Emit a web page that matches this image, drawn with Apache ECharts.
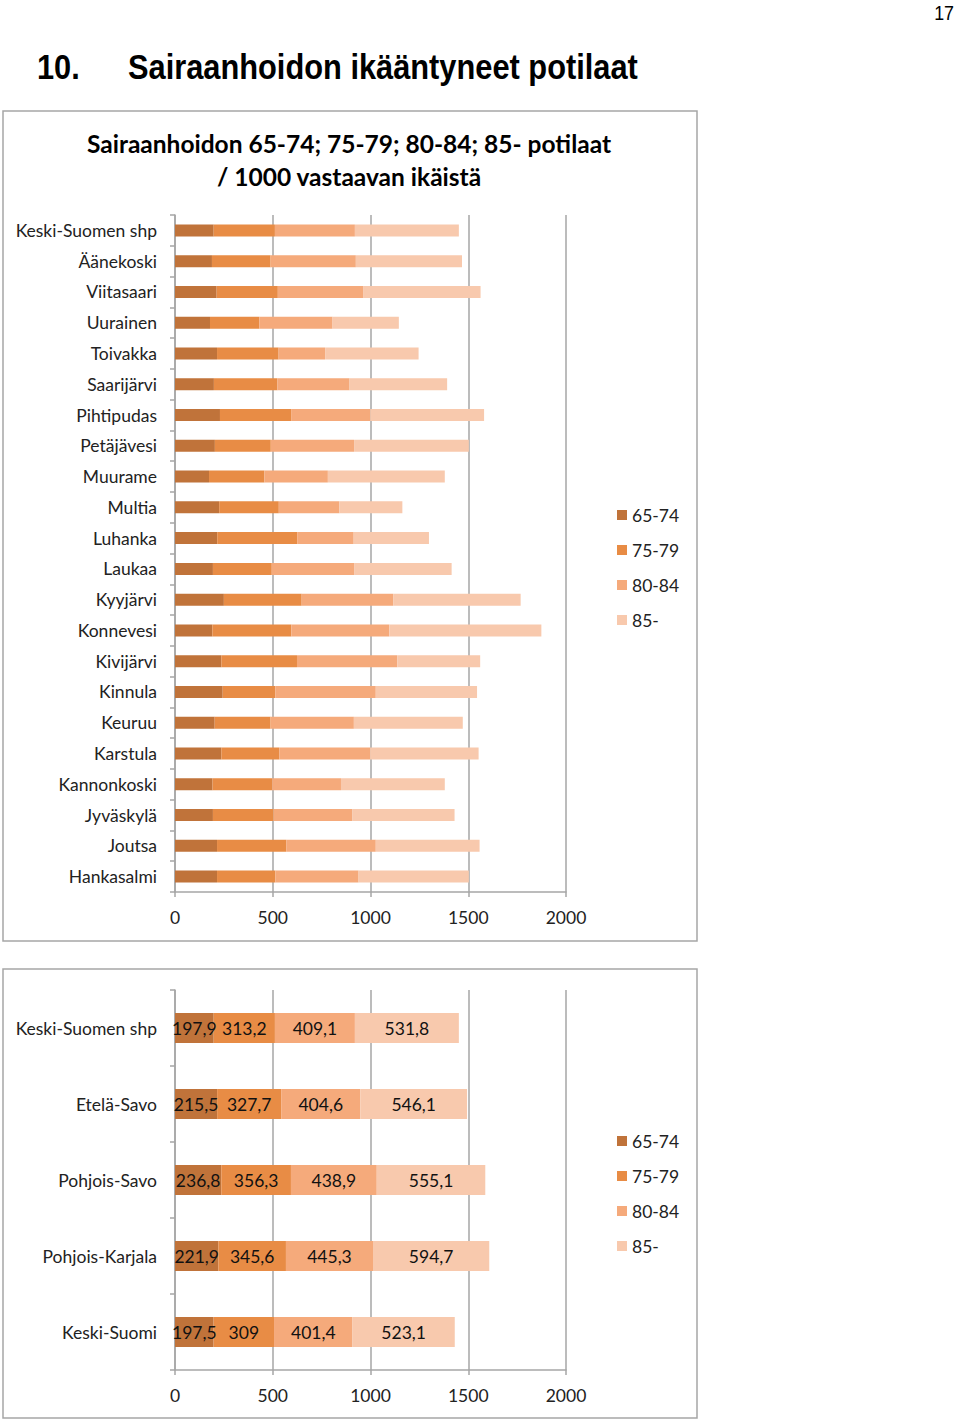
<!DOCTYPE html>
<html>
<head>
<meta charset="utf-8">
<script src="https://cdn.jsdelivr.net/npm/echarts@6/dist/echarts.min.js"></script>
<style>
html,body{margin:0;padding:0;background:#fff;}
#c{width:960px;height:1420px;}
</style>
</head>
<body>
<div id="c"></div>
<script>
// ---- Data ----
const seriesNames = ['65-74', '75-79', '80-84', '85-'];
const categoriesTop = ['Keski-Suomen shp','Äänekoski','Viitasaari','Uurainen','Toivakka','Saarijärvi','Pihtipudas','Petäjävesi','Muurame','Multia','Luhanka','Laukaa','Kyyjärvi','Konnevesi','Kivijärvi','Kinnula','Keuruu','Karstula','Kannonkoski','Jyväskylä','Joutsa','Hankasalmi'];
const top65_74 = [197.9, 189, 213, 179, 215, 199, 230, 204, 174, 226, 216, 194, 250, 191, 237, 244, 203, 237, 192, 194, 215, 215];
const top75_79 = [313.2, 300, 313, 252, 315, 325, 364, 286, 283, 305, 409, 301, 398, 404, 387, 269, 286, 296, 305, 310, 354, 298];
const top80_84 = [409.1, 436, 436, 375, 238, 369, 405, 426, 325, 310, 289, 421, 468, 501, 513, 514, 426, 465, 352, 402, 458, 426];
const top85 = [531.8, 543, 601, 339, 478, 499, 582, 587, 598, 322, 385, 499, 652, 778, 424, 518, 557, 555, 531, 524, 531, 564];

const categoriesBottom = ['Keski-Suomen shp','Etelä-Savo','Pohjois-Savo','Pohjois-Karjala','Keski-Suomi'];
const bot65_74 = [197.9, 215.5, 236.8, 221.9, 197.5];
const bot75_79 = [313.2, 327.7, 356.3, 345.6, 309];
const bot80_84 = [409.1, 404.6, 438.9, 445.3, 401.4];
const bot85 = [531.8, 546.1, 555.1, 594.7, 523.1];

const xTicks = { min: 0, max: 2000, interval: 500 };
const pageNumber = '17';
const heading = ['10.', 'Sairaanhoidon ikääntyneet potilaat'];
const chartTitle = ['Sairaanhoidon 65-74; 75-79; 80-84; 85- potilaat', '/ 1000 vastaavan ikäistä'];

// ---- Styles ----
const colors = ['#C0733A', '#E88C45', '#F5AA7B', '#F8C9AD'];
const FONT = 'Lato, "Noto Sans", sans-serif';
const HFONT = '"Liberation Sans", Arial, sans-serif';
const gridColor = '#A6A6A6';

const chart = echarts.init(document.getElementById('c'), null, { renderer: 'svg' });

function xAxis(gridIndex) {
  return {
    type: 'value', gridIndex, min: xTicks.min, max: xTicks.max, interval: xTicks.interval,
    axisLine: { show: true, lineStyle: { color: gridColor, width: 1.5 } },
    axisTick: { show: true, length: 5, lineStyle: { color: gridColor, width: 1.5 } },
    splitLine: { show: true, lineStyle: { color: gridColor, width: 1.5 } },
    axisLabel: { color: '#222', fontSize: 17.5, fontFamily: FONT, margin: 16, formatter: v => String(v) }
  };
}
function yAxis(gridIndex, cats) {
  return {
    type: 'category', gridIndex, data: cats, inverse: true,
    axisLine: { show: true, lineStyle: { color: gridColor, width: 1.5 } },
    axisTick: { show: true, length: 5, lineStyle: { color: gridColor, width: 1.5 } },
    axisLabel: { color: '#222', fontSize: 17.5, fontFamily: FONT, margin: 18 }
  };
}
function legend(top) {
  return {
    data: seriesNames, orient: 'vertical', left: 612, top: top,
    itemWidth: 10, itemHeight: 10, itemGap: 15, icon: 'rect',
    textStyle: { color: '#222', fontSize: 17.5, fontFamily: FONT, lineHeight: 20 },
    selectedMode: false
  };
}

const topData = [top65_74, top75_79, top80_84, top85];
const botData = [bot65_74, bot75_79, bot80_84, bot85];
const series = [];
seriesNames.forEach((n, i) => {
  series.push({
    name: n, type: 'bar', stack: 'top', xAxisIndex: 0, yAxisIndex: 0,
    data: topData[i], barWidth: 12, itemStyle: { color: colors[i] }, silent: true
  });
});
seriesNames.forEach((n, i) => {
  series.push({
    name: n, type: 'bar', stack: 'bot', xAxisIndex: 1, yAxisIndex: 1,
    data: botData[i], barWidth: 30, itemStyle: { color: colors[i] }, silent: true,
    label: {
      show: true, position: 'inside', color: '#111', fontSize: 17.5, fontFamily: FONT,
      formatter: p => String(p.value).replace('.', ',')
    }
  });
});

chart.setOption({
  animation: false,
  backgroundColor: '#fff',
  grid: [
    { left: 175, top: 215, width: 391, height: 677 },
    { left: 175, top: 990, width: 391, height: 380 }
  ],
  xAxis: [xAxis(0), xAxis(1)],
  yAxis: [yAxis(0, categoriesTop), yAxis(1, categoriesBottom)],
  legend: [legend(500), legend(1126)],
  series: series,
  graphic: [
    { type: 'rect', shape: { x: 3, y: 111, width: 694, height: 830 }, style: { fill: 'none', stroke: '#A6A6A6', lineWidth: 1.5 }, silent: true },
    { type: 'rect', shape: { x: 3, y: 969, width: 694, height: 449 }, style: { fill: 'none', stroke: '#A6A6A6', lineWidth: 1.5 }, silent: true },
    { type: 'text', x: 954, y: 12, scaleX: 0.85, style: { text: pageNumber, fontSize: 21, fontFamily: HFONT, fill: '#000', textAlign: 'right', textVerticalAlign: 'middle' } },
    { type: 'text', x: 37, y: 67, scaleX: 0.88, style: { text: heading[0], fontSize: 35, fontWeight: 'bold', fontFamily: HFONT, fill: '#000', textVerticalAlign: 'middle' } },
    { type: 'text', x: 128, y: 67, scaleX: 0.88, style: { text: heading[1], fontSize: 35, fontWeight: 'bold', fontFamily: HFONT, fill: '#000', textVerticalAlign: 'middle' } },
    { type: 'text', x: 349, y: 143, style: { text: chartTitle[0], fontSize: 24.5, fontWeight: 'bold', fontFamily: FONT, fill: '#000', textAlign: 'center', textVerticalAlign: 'middle' } },
    { type: 'text', x: 349, y: 176, style: { text: chartTitle[1], fontSize: 24.5, fontWeight: 'bold', fontFamily: FONT, fill: '#000', textAlign: 'center', textVerticalAlign: 'middle' } }
  ]
});
</script>
</body>
</html>
